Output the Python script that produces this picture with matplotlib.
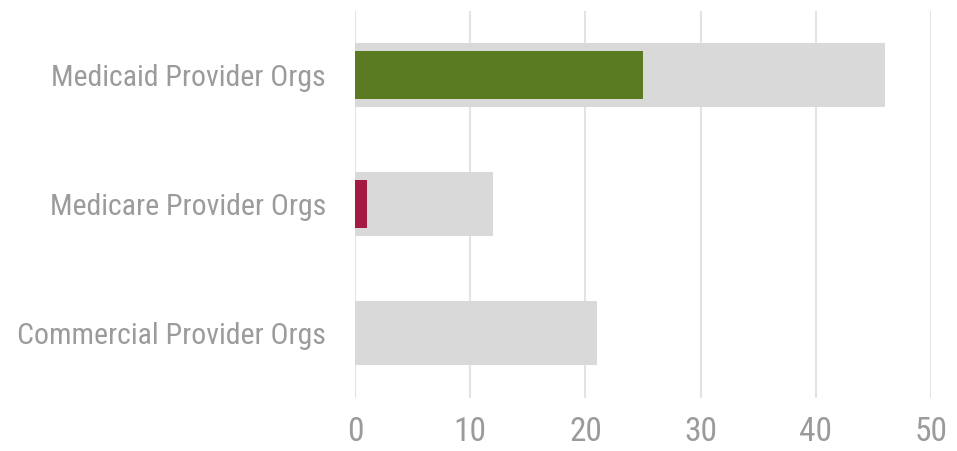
import matplotlib.pyplot as plt
from matplotlib import font_manager

categories = ["Commercial Provider Orgs", "Medicare Provider Orgs", "Medicaid Provider Orgs"]
total_values = [21, 12, 46]
highlight_values = [0, 1, 25]
highlight_colors = ["#5B7B22", "#A31A42", "#5B7B22"]
x_ticks = [0, 10, 20, 30, 40, 50]

names = {f.name for f in font_manager.fontManager.ttflist}
narrow = [n for n in ["Liberation Sans Narrow", "Roboto Condensed", "Arial Narrow"] if n in names]
narrow_found = bool(narrow)
family = narrow[0] if narrow_found else "Liberation Sans"
plt.rcParams["font.family"] = [family, "DejaVu Sans"]

# fall back to smaller font sizes when no condensed face is around
ylab_size = 21.5 if narrow_found else 18.5
xlab_size = 24 if narrow_found else 19

text_color = "#9B9B9B"

fig = plt.figure(figsize=(9.57, 4.51), dpi=100)
ax = fig.add_axes([0.371, 0.1186, 0.602, 0.858])

pos = range(len(categories))
ax.barh(pos, total_values, height=0.5, color="#D9D9D9", zorder=2)
ax.barh(pos, highlight_values, height=0.37, color=highlight_colors, zorder=3)

ax.set_xlim(0, 50)
ax.set_ylim(-0.5, 2.5)
ax.set_xticks(x_ticks)
ax.set_yticks(list(pos))
ax.set_yticklabels(categories)
ax.tick_params(axis="x", length=0, pad=13, labelsize=xlab_size, labelcolor=text_color)
ax.tick_params(axis="y", length=0, pad=21, labelsize=ylab_size, labelcolor=text_color)

ax.grid(axis="x", color="#E3E3E3", linewidth=1.5, zorder=0)
ax.set_axisbelow(True)
for side in ["top", "right", "bottom", "left"]:
    ax.spines[side].set_visible(False)

fig.savefig("out.png", dpi=100)
